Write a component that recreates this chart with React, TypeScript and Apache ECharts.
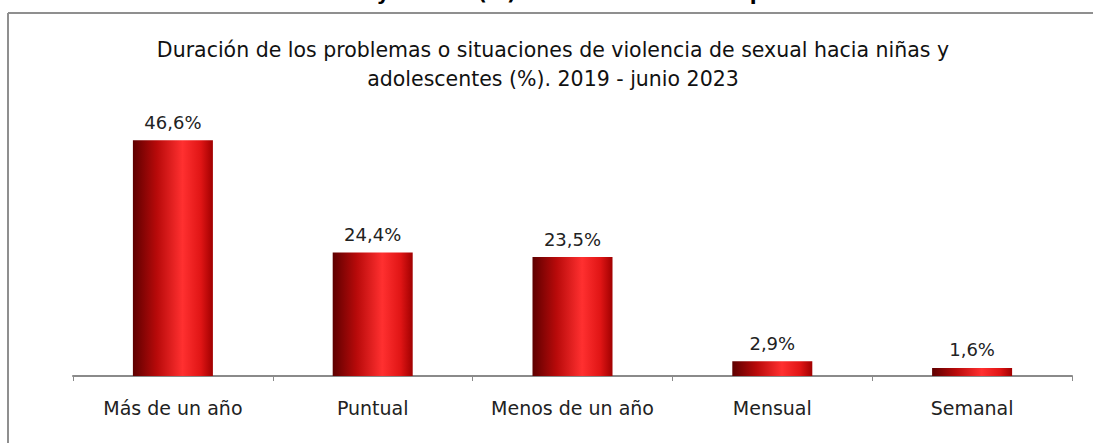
import React, { useEffect, useRef } from "react";
import * as echarts from "echarts";

const categories = ["Más de un año", "Puntual", "Menos de un año", "Mensual", "Semanal"];
const values = [46.6, 24.4, 23.5, 2.9, 1.6];
const titleLines = [
  "Duración de los problemas o situaciones de violencia de sexual hacia niñas y",
  "adolescentes (%). 2019 - junio 2023",
];

const FONT = "'DejaVu Sans', 'Noto Sans', sans-serif";

export default function App() {
  const ref = useRef<HTMLDivElement>(null);
  useEffect(() => {
    if (!ref.current) return;
    const chart = echarts.init(ref.current, null, { renderer: "svg" });
    const barGradient = new echarts.graphic.LinearGradient(0, 0, 1, 0, [
      { offset: 0, color: "#5e0000" },
      { offset: 0.3, color: "#b80a0a" },
      { offset: 0.62, color: "#ff3030" },
      { offset: 0.85, color: "#e01515" },
      { offset: 1, color: "#a00000" },
    ]);
    chart.setOption({
      animation: false,
      backgroundColor: "#ffffff",
      title: {
        text: titleLines.join("\n"),
        left: 548,
        textAlign: "center",
        top: 30,
        textStyle: {
          fontFamily: FONT,
          fontSize: 20.5,
          fontWeight: "normal",
          color: "#111",
          lineHeight: 29,
        },
      },
      graphic: [
        { type: "line", shape: { x1: 8, y1: 13, x2: 1093, y2: 13 }, style: { stroke: "#8f8f8f", lineWidth: 2 } },
        { type: "line", shape: { x1: 8, y1: 13, x2: 8, y2: 443 }, style: { stroke: "#8f8f8f", lineWidth: 2 } },
        { type: "text", x: 383, y: 3, style: { text: "y", font: `bold 20px ${FONT}`, fill: "#000", align: "center", verticalAlign: "bottom" } },
        { type: "text", x: 497, y: 3, style: { text: "(%)", font: `bold 20px ${FONT}`, fill: "#000", align: "center", verticalAlign: "bottom" } },
        { type: "text", x: 757, y: 3, style: { text: "p", font: `bold 20px ${FONT}`, fill: "#000", align: "center", verticalAlign: "bottom" } },
      ],
      grid: { left: 73, right: 21, top: 123, bottom: 67, containLabel: false },
      xAxis: {
        type: "category",
        data: categories,
        axisLine: { lineStyle: { color: "#8a8a8a", width: 2 } },
        axisTick: { show: true, length: 5, lineStyle: { color: "#8a8a8a" } },
        axisLabel: { fontFamily: FONT, fontSize: 19, color: "#222", margin: 22, interval: 0 },
      },
      yAxis: {
        type: "value",
        min: 0,
        max: 50,
        show: false,
        splitLine: { show: false },
      },
      series: [
        {
          type: "bar",
          data: values,
          barWidth: 80,
          itemStyle: { color: barGradient },
          label: {
            show: true,
            position: "top",
            distance: 9,
            fontFamily: FONT,
            fontSize: 18,
            color: "#222",
            formatter: (p: any) => p.value.toFixed(1).replace(".", ",") + "%",
          },
        },
      ],
    });
    return () => chart.dispose();
  }, []);
  return (
    <div
      ref={ref}
      style={{ position: "fixed", top: 0, left: 0, width: 1093, height: 443, background: "#fff" }}
    />
  );
}
